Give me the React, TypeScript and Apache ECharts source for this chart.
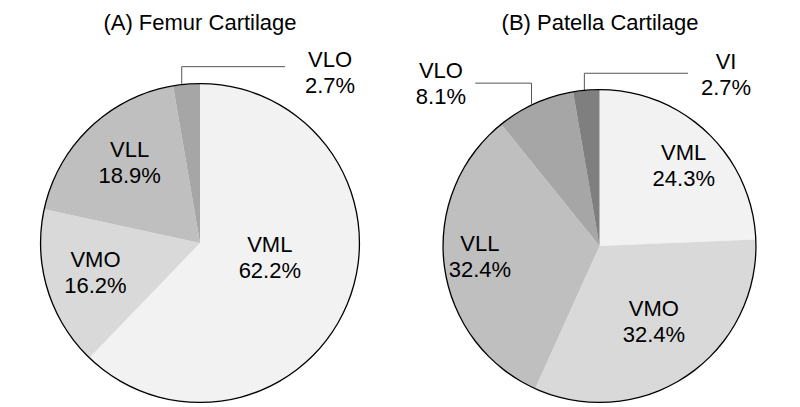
import React, { useEffect, useRef } from "react";
import * as echarts from "echarts";

// ---- data ----
const femurCategories = ["VML", "VMO", "VLL", "VLO"];
const femurValues = [62.2, 16.2, 18.9, 2.7];
const patellaCategories = ["VML", "VMO", "VLL", "VLO", "VI"];
const patellaValues = [24.3, 32.4, 32.4, 8.1, 2.7];
const chartTitles = ["(A) Femur Cartilage", "(B) Patella Cartilage"];

// ---- styling / layout ----
const sliceColors = ["#f2f2f2", "#d9d9d9", "#bfbfbf", "#a6a6a6", "#7f7f7f"];
const FONT = "'Liberation Sans', Arial, Helvetica, sans-serif";

type InCfg = { kind: "in"; dx: number; dy: number };
type OutCfg = { kind: "out"; xo: number; top: number; end: number; lx: number; ly: number };
type Cfg = InCfg | OutCfg;

const femurLabelCfg: Cfg[] = [
  { kind: "in", dx: -6.7, dy: -16.5 },
  { kind: "in", dx: -25.6, dy: 5 },
  { kind: "in", dx: -13.3, dy: -21.3 },
  { kind: "out", xo: -4.8, top: -17.9, end: 98.5, lx: 143.5, ly: -12.3 },
];
const patellaLabelCfg: Cfg[] = [
  { kind: "in", dx: 28.2, dy: -21.7 },
  { kind: "in", dx: 9, dy: 8.4 },
  { kind: "in", dx: -39.3, dy: 0.6 },
  { kind: "out", xo: -3.7, top: -20.7, end: -60, lx: -94.3, ly: -20.3 },
  { kind: "out", xo: -1.9, top: -17.3, end: 101.8, lx: 139.8, ly: -15.6 },
];

function buildPie(
  names: string[],
  values: number[],
  cfg: Cfg[],
  center: [number, number],
  radius: number
) {
  return {
    type: "pie",
    center,
    radius: [0, radius],
    startAngle: 90,
    clockwise: true,
    avoidLabelOverlap: false,
    emphasis: { disabled: true },
    itemStyle: { borderWidth: 0 },
    label: {
      show: true,
      position: "inside",
      formatter: (p: any) => `${p.name}\n${p.value.toFixed(1)}%`,
      color: "#000",
      fontSize: 22,
      lineHeight: 26,
      fontFamily: FONT,
      align: "center",
    },
    labelLine: { show: false },
    data: names.map((n, i) => ({
      name: n,
      value: values[i],
      itemStyle: { color: sliceColors[i] },
      ...(cfg[i].kind === "out"
        ? {
            label: { position: "outside" },
            labelLine: { show: true, length: 15, length2: 10, lineStyle: { color: "#555", width: 1 } },
          }
        : {}),
    })),
    labelLayout: (p: any) => {
      const c = cfg[p.dataIndex];
      if (!c) return {};
      if (c.kind === "in") return { dx: c.dx, dy: c.dy };
      const pts = p.labelLinePoints;
      if (!pts || !pts[0]) return {};
      const [x0, y0] = pts[0];
      const vx = x0 + c.xo;
      return {
        x: x0 + c.lx,
        y: y0 + c.ly,
        align: "center",
        verticalAlign: "middle",
        labelLinePoints: [
          [vx, y0],
          [vx, y0 + c.top],
          [x0 + c.end, y0 + c.top],
        ],
      };
    },
  };
}

function outline(center: [number, number], radius: number) {
  return {
    type: "pie",
    center,
    radius: [radius - 0.2, radius + 1.1],
    silent: true,
    emphasis: { disabled: true },
    label: { show: false },
    labelLine: { show: false },
    itemStyle: { color: "#000", borderWidth: 0 },
    data: [{ value: 1, name: "" }],
  };
}

export default function App() {
  const ref = useRef<HTMLDivElement>(null);
  useEffect(() => {
    if (!ref.current) return;
    const chart = echarts.init(ref.current, undefined, { renderer: "svg" });
    const leftC: [number, number] = [200, 243];
    const rightC: [number, number] = [599.5, 246];
    chart.setOption({
      animation: false,
      backgroundColor: "#fff",
      title: chartTitles.map((t, i) => ({
        text: t,
        left: i === 0 ? 200 : 600,
        top: 11,
        padding: 0,
        textAlign: "center",
        textStyle: { fontSize: 22, fontWeight: "normal", color: "#000", fontFamily: FONT },
      })),
      series: [
        buildPie(femurCategories, femurValues, femurLabelCfg, leftC, 159),
        buildPie(patellaCategories, patellaValues, patellaLabelCfg, rightC, 156),
        outline(leftC, 159),
        outline(rightC, 156),
      ],
    });
    return () => chart.dispose();
  }, []);
  return (
    <div
      ref={ref}
      style={{ position: "fixed", left: 0, top: 0, width: 800, height: 407, background: "#fff" }}
    />
  );
}
